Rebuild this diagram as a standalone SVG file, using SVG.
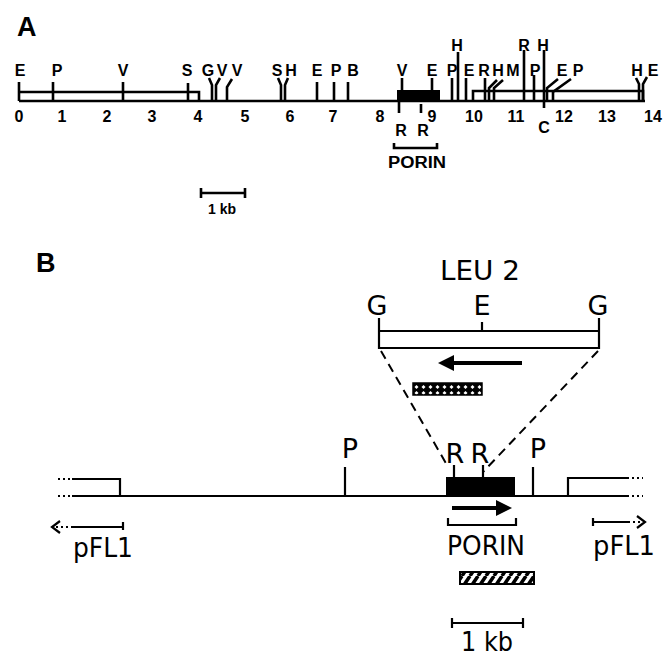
<svg xmlns="http://www.w3.org/2000/svg" width="664" height="661" viewBox="0 0 664 661">
<style>
.a{font-family:"Liberation Sans",Arial,sans-serif;font-weight:bold;font-size:16px;fill:#000;text-anchor:middle}
.big{font-family:"Liberation Sans",Arial,sans-serif;font-weight:bold;font-size:27px;fill:#000}
.b{font-family:"DejaVu Sans","Liberation Sans",sans-serif;font-size:27px;fill:#000;text-anchor:middle}
.ln{stroke:#000;stroke-width:2.6;fill:none}
.lb{stroke:#000;stroke-width:2.2;fill:none}
.dot{stroke:#000;stroke-width:2.2;fill:none;stroke-dasharray:2 3}
.dash{stroke:#000;stroke-width:2;fill:none;stroke-dasharray:9 6}
</style>
<defs>
<pattern id="cross" patternUnits="userSpaceOnUse" width="7" height="6">
<rect width="7" height="6" fill="#000"/>
<path d="M3.5 1 L5.5 3 L3.5 5 L1.5 3 Z" fill="#fff"/>
</pattern>
<pattern id="diag" patternUnits="userSpaceOnUse" width="8" height="12">
<rect width="8" height="12" fill="#fff"/>
<path d="M-2 12 L6 0 M6 12 L14 0" stroke="#000" stroke-width="3.5"/>
</pattern>
<marker id="ah" markerWidth="4" markerHeight="4" refX="1" refY="2" orient="auto" markerUnits="strokeWidth">
<path d="M0 0 L4 2 L0 4 Z" fill="#000"/>
</marker>
</defs>

<!-- Panel A -->
<g id="panelA">
<text class="big" x="17" y="36">A</text>
<g id="mapA" class="ln">
<path d="M19 101 H645"/>
<path d="M19 82 V101 M19 92 H199 V101"/>
<path d="M473 101 V91 H643 V101"/>
<path d="M53 82 V101 M123 82 V101 M188 83 V101"/>
<path d="M212 101 V85 L209 78 M216 101 V85 L220 78 M227 101 V87 L232 79"/>
<path d="M281 101 V85 L278 78 M285 101 V85 L288 78"/>
<path d="M317 82 V101 M334 82 V101 M348 82 V101"/>
<path d="M402 78 V91 M432 78 V91"/>
<path d="M399 101 V113 M421 104 V113"/>
<path d="M452 78 V101 M458 52 V101 M466 78 V101 M485 78 V101"/>
<path d="M489 101 V88 L497 80 M494 101 V88 L503 80"/>
<path d="M524 50 V101 M534 75 V101 M544 50 V108"/>
<path d="M547 101 V88 L558 79 M553 101 V92 L571 79"/>
<path d="M639 101 V84 L636 78 M643 101 V84 L647 77"/>
<path d="M394 143 V148 H437 V143"/>
</g>
<rect x="397" y="90" width="43" height="11" fill="#000"/>
<g id="labelsA">
<text class="a" x="20" y="76">E</text>
<text class="a" x="57" y="76">P</text>
<text class="a" x="123" y="76">V</text>
<text class="a" x="187" y="76">S</text>
<text class="a" x="208" y="76">G</text>
<text class="a" x="222" y="76">V</text>
<text class="a" x="237" y="76">V</text>
<text class="a" x="277" y="76">S</text>
<text class="a" x="291" y="76">H</text>
<text class="a" x="317" y="76">E</text>
<text class="a" x="336" y="76">P</text>
<text class="a" x="353" y="76">B</text>
<text class="a" x="402" y="76">V</text>
<text class="a" x="432" y="76">E</text>
<text class="a" x="452" y="76">P</text>
<text class="a" x="469" y="76">E</text>
<text class="a" x="484" y="76">R</text>
<text class="a" x="498" y="76">H</text>
<text class="a" x="513" y="76">M</text>
<text class="a" x="535" y="76">P</text>
<text class="a" x="562" y="76">E</text>
<text class="a" x="578" y="76">P</text>
<text class="a" x="637" y="76">H</text>
<text class="a" x="653" y="76">E</text>
<text class="a" x="457" y="51">H</text>
<text class="a" x="524" y="51">R</text>
<text class="a" x="543" y="51">H</text>
<text class="a" x="19" y="122">0</text>
<text class="a" x="62" y="122">1</text>
<text class="a" x="107" y="122">2</text>
<text class="a" x="152" y="122">3</text>
<text class="a" x="198" y="122">4</text>
<text class="a" x="245" y="122">5</text>
<text class="a" x="290" y="122">6</text>
<text class="a" x="333" y="122">7</text>
<text class="a" x="380" y="122">8</text>
<text class="a" x="432" y="122">9</text>
<text class="a" x="474" y="122">10</text>
<text class="a" x="516" y="122">11</text>
<text class="a" x="564" y="122">12</text>
<text class="a" x="607" y="122">13</text>
<text class="a" x="653" y="122">14</text>
<text class="a" x="401" y="136">R</text>
<text class="a" x="423" y="136">R</text>
<text class="a" x="544" y="133">C</text>
<text class="a" x="417" y="168" textLength="58" lengthAdjust="spacingAndGlyphs">PORIN</text>
</g>
<g id="scaleA">
<path class="ln" d="M201 193 H245 M201 188 V198 M245 188 V198"/>
<text class="a" x="222" y="214" style="font-size:14px">1 kb</text>
</g>
</g>

<!-- Panel B -->
<g id="panelB">
<text class="big" x="36" y="272">B</text>
<g id="leu2">
<text class="b" x="480" y="280" textLength="80" lengthAdjust="spacingAndGlyphs">LEU 2</text>
<text class="b" x="377" y="315">G</text>
<text class="b" x="482" y="315">E</text>
<text class="b" x="598" y="315">G</text>
<path class="lb" d="M379 318 V348 H599 V318 M379 331 H599 M482 322 V331"/>
<path d="M522 363 H450" stroke="#000" stroke-width="4" fill="none" marker-end="url(#ah)"/>
<rect x="413" y="383" width="69" height="12" fill="url(#cross)" stroke="#000" stroke-width="1.5"/>
</g>
<g id="connectors">
<path class="dash" d="M381 351 L447 465"/>
<path class="dash" d="M598 351 L483 472"/>
</g>
<g id="mapB">
<path class="lb" d="M72 496 H627"/>
<path class="lb" d="M72 479 H120 V496"/>
<path class="lb" d="M568 496 V478 H627"/>
<path class="dot" d="M58 479 H72 M58 496 H72 M627 478 H643 M627 496 H643"/>
<path class="lb" d="M345 467 V496 M533 467 V496 M454 465 V477 M483 465 V477"/>
<rect x="446" y="477" width="69" height="19" fill="#000"/>
<text class="b" x="350" y="458">P</text>
<text class="b" x="455" y="463">R</text>
<text class="b" x="480" y="463">R</text>
<text class="b" x="538" y="458">P</text>
</g>
<g id="porin">
<path d="M452 508 H500" stroke="#000" stroke-width="4" fill="none" marker-end="url(#ah)"/>
<path class="lb" d="M448 518 V525 H516 V518"/>
<text class="b" x="486" y="555" textLength="78" lengthAdjust="spacingAndGlyphs">PORIN</text>
<rect x="460" y="572" width="74" height="12" fill="url(#diag)" stroke="#000" stroke-width="2"/>
</g>
<g id="pfl1L">
<path class="lb" d="M72 527 H123 M123 522 V530"/>
<path class="dot" d="M56 527 H72"/>
<path class="lb" d="M60 521 L52 527 L60 533"/>
<text class="b" x="103" y="557" textLength="60" lengthAdjust="spacingAndGlyphs">pFL1</text>
</g>
<g id="pfl1R">
<path class="lb" d="M593 522 H628 M593 518 V526"/>
<path class="dot" d="M628 522 H642"/>
<path class="lb" d="M637 516 L645 522 L637 528"/>
<text class="b" x="624" y="555" textLength="62" lengthAdjust="spacingAndGlyphs">pFL1</text>
</g>
<g id="scaleB">
<path class="lb" d="M452 623 H523 M452 618 V628 M523 618 V628"/>
<text class="b" x="487" y="651" textLength="52" lengthAdjust="spacingAndGlyphs">1 kb</text>
</g>
</g>
</svg>
